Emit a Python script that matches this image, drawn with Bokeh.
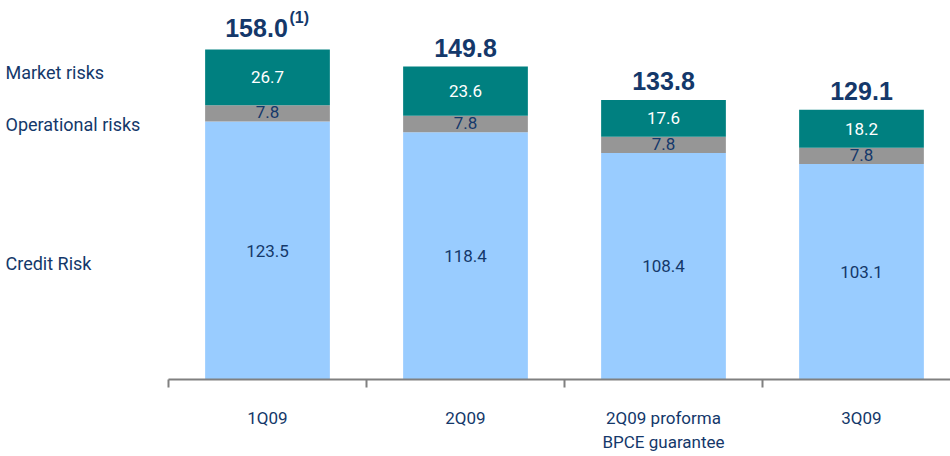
from bokeh.plotting import figure
from bokeh.models import ColumnDataSource, Range1d, FixedTicker, Label
from bokeh.core.properties import value
from bokeh.embed import file_html
from bokeh.resources import INLINE

# Risk-weighted assets by quarter (EUR bn)
categories = ["1Q09", "2Q09", "2Q09 proforma\nBPCE guarantee", "3Q09"]
credit_risk = [123.5, 118.4, 108.4, 103.1]
operational_risk = [7.8, 7.8, 7.8, 7.8]
market_risk = [26.7, 23.6, 17.6, 18.2]
totals = [158.0, 149.8, 133.8, 129.1]
series_names = ["Credit Risk", "Operational risks", "Market risks"]

NAVY = "#14386A"
NARROW = "Roboto"
BOLD = "Liberation Sans"

PX_PER_UNIT = 2.089   # vertical scale
CAT_PX = 198          # width of one category slot

xs = [i + 0.5 for i in range(len(categories))]
credit_top = credit_risk
op_top = [c + o for c, o in zip(credit_risk, operational_risk)]
mkt_top = [a + m for a, m in zip(op_top, market_risk)]

src = ColumnDataSource(dict(
    x=xs,
    credit_top=credit_top, op_top=op_top, mkt_top=mkt_top,
    credit_mid=[t / 2 for t in credit_top],
    op_mid=[(a + b) / 2 for a, b in zip(credit_top, op_top)],
    mkt_mid=[(a + b) / 2 for a, b in zip(op_top, mkt_top)],
    credit_lbl=[f"{v:.1f}" for v in credit_risk],
    op_lbl=[f"{v:.1f}" for v in operational_risk],
    mkt_lbl=[f"{v:.1f}" for v in market_risk],
))

x_start = -168 / CAT_PX
x_end = 782 / CAT_PX
p = figure(width=950, height=456, output_backend="svg", toolbar_location=None,
           x_range=Range1d(x_start, x_end), y_range=Range1d(0, 379 / PX_PER_UNIT),
           min_border_left=0, min_border_right=0, min_border_top=0,
           min_border_bottom=77)
p.outline_line_color = None
p.xgrid.visible = False
p.ygrid.visible = False
p.yaxis.visible = False

W = 0.63
p.vbar(x="x", width=W, bottom=0, top="credit_top", source=src,
       fill_color="#99CCFF", line_color=None)
p.vbar(x="x", width=W, bottom="credit_top", top="op_top", source=src,
       fill_color="#969696", line_color=None)
p.vbar(x="x", width=W, bottom="op_top", top="mkt_top", source=src,
       fill_color="#008080", line_color=None)

common = dict(x="x", source=src, text_align="center", text_baseline="middle",
              text_font=value(NARROW), text_font_size="17px")
p.text(y="credit_mid", text="credit_lbl", text_color=NAVY, **common)
p.text(y="op_mid", text="op_lbl", text_color=NAVY, y_offset=-1, **common)
p.text(y="mkt_mid", text="mkt_lbl", text_color="white", **common)

# Totals above each stack
tot_src = ColumnDataSource(dict(
    x=xs, y=totals, lbl=[f"{v:.1f}" for v in totals],
    lift=[-21, -19, -19, -19],
    dx=[-11, 0, 0, 0],
))
p.text(x="x", y="y", text="lbl", source=tot_src, x_offset="dx", y_offset="lift",
       text_align="center", text_baseline="alphabetic", text_color=NAVY,
       text_font=value(BOLD), text_font_style="bold", text_font_size="25px")
p.add_layout(Label(x=xs[0], y=totals[0], text="(1)", x_offset=22, y_offset=32,
                   text_align="left", text_baseline="middle", text_color=NAVY,
                   text_font=BOLD, text_font_style="bold", text_font_size="16px"))

# Series names at the left
for name, ypx in zip(series_names, [263, 124, 72]):
    p.text(x=[x_start + 5 / CAT_PX], y=[(379 - ypx) / PX_PER_UNIT], text=[name],
           text_align="left", text_baseline="middle", text_color=NAVY,
           text_font=value(NARROW), text_font_size="18px")

ax = p.xaxis[0]
ax.bounds = (0, x_end)
ax.ticker = FixedTicker(ticks=xs, minor_ticks=[0, 1, 2, 3, 4])
ax.major_label_overrides = {x: c for x, c in zip(xs, categories)}
ax.major_tick_line_color = None
ax.major_tick_out = 0
ax.major_tick_in = 0
ax.minor_tick_line_color = "#808080"
ax.minor_tick_line_width = 2
ax.minor_tick_out = 8
ax.minor_tick_in = 0
ax.axis_line_color = "#808080"
ax.axis_line_width = 2
ax.major_label_standoff = 20
ax.major_label_text_font = NARROW
ax.major_label_text_font_size = "17px"
ax.major_label_text_color = NAVY

open("out.html", "w").write(file_html(p, INLINE))
